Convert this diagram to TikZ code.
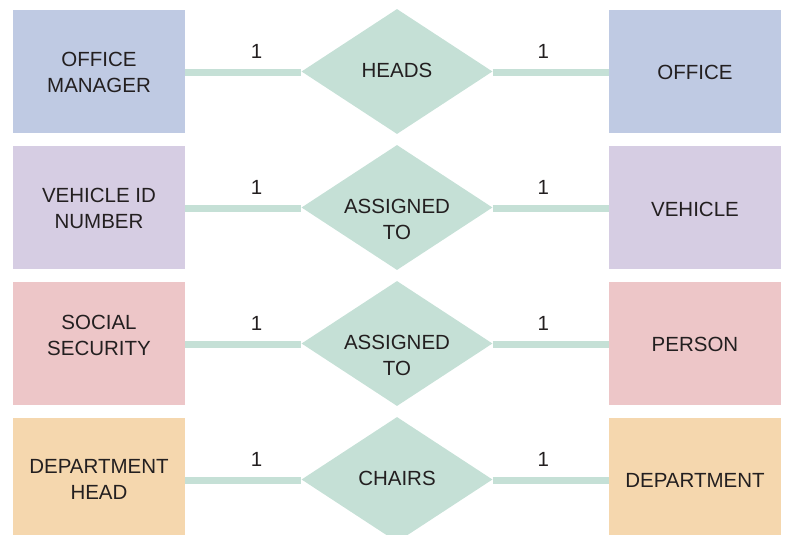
\documentclass[tikz,border=0pt]{standalone}
\usepackage{fontspec}
\setmainfont{Liberation Sans}
\usetikzlibrary{shapes.geometric}
\definecolor{cblue}{HTML}{BFCAE3}
\definecolor{cpurple}{HTML}{D6CDE3}
\definecolor{cpink}{HTML}{EDC6C8}
\definecolor{corange}{HTML}{F5D7AE}
\definecolor{cgreen}{HTML}{C5E0D6}
\definecolor{ctext}{HTML}{231F20}
\begin{document}
\begin{tikzpicture}[x=1pt,y=-1pt,
  txt/.style={inner sep=0pt,align=center,text=ctext,font=\fontsize{20.5}{26}\selectfont},
  ent/.style={minimum width=172pt,minimum height=123pt,inner sep=0pt},
  rel/.style={diamond,aspect=1.53,minimum width=191pt,minimum height=125pt,inner sep=0pt,fill=cgreen},
  link/.style={draw=cgreen,line width=7.5pt},
  card/.style={text=ctext,font=\fontsize{20.5}{24}\selectfont,inner sep=0pt}]
\useasboundingbox (0,0) rectangle (785,535);
\begin{scope}
\clip (0,0) rectangle (785,535);
% row 1
\node[ent,fill=cblue] (l1) at (99,71.5) {};
\node[ent,fill=cblue] (r1) at (695,71.5) {};
\node[rel] (d1) at (397,71.5) {};
\node[txt] (tl1) at (99,72) {OFFICE\\MANAGER};
\node[txt] (tr1) at (695,72) {OFFICE};
\node[txt] (td1) at (397,70) {HEADS};
% row 2
\node[ent,fill=cpurple] (l2) at (99,207.5) {};
\node[ent,fill=cpurple] (r2) at (695,207.5) {};
\node[rel] (d2) at (397,207.5) {};
\node[txt] (tl2) at (99,208) {VEHICLE ID\\NUMBER};
\node[txt] (tr2) at (695,209) {VEHICLE};
\node[txt] (td2) at (397,219) {ASSIGNED\\TO};
% row 3
\node[ent,fill=cpink] (l3) at (99,343.5) {};
\node[ent,fill=cpink] (r3) at (695,343.5) {};
\node[rel] (d3) at (397,343.5) {};
\node[txt] (tl3) at (99,335) {SOCIAL\\SECURITY};
\node[txt] (tr3) at (695,344.5) {PERSON};
\node[txt] (td3) at (397,355) {ASSIGNED\\TO};
% row 4
\node[ent,fill=corange] (l4) at (99,479.5) {};
\node[ent,fill=corange] (r4) at (695,479.5) {};
\node[rel] (d4) at (397,479.5) {};
\node[txt] (tl4) at (99,479) {DEPARTMENT\\HEAD};
\node[txt] (tr4) at (695,480) {DEPARTMENT};
\node[txt] (td4) at (397,478) {CHAIRS};
\foreach \i in {1,2,3,4}{
  \draw[link] ([yshift=-1pt]l\i.east) -- ([yshift=-1pt]d\i.west);
  \draw[link] ([yshift=-1pt]d\i.east) -- ([yshift=-1pt]r\i.west);
  \path (l\i.east) -- (d\i.west) node[card,pos=0.615,yshift=20pt] (a\i) {1};
  \path (d\i.east) -- (r\i.west) node[card,pos=0.436,yshift=20pt] (b\i) {1};
}
\end{scope}
\end{tikzpicture}
\end{document}
